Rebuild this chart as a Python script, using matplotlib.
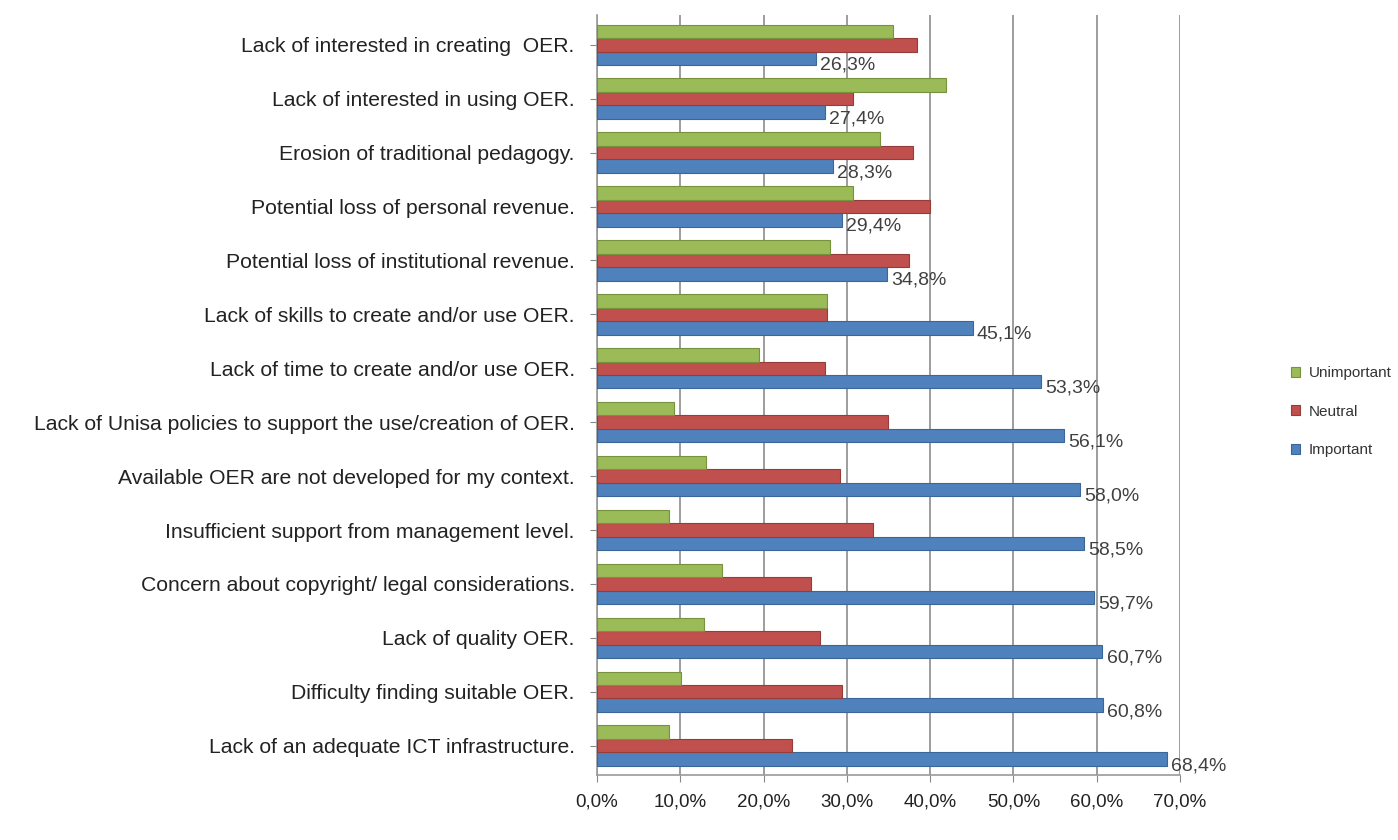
"""Barriers to OER use: grouped horizontal bar chart"""

import numpy as np
import matplotlib
matplotlib.use("Agg")
import matplotlib.pyplot as plt
from matplotlib.ticker import FuncFormatter

plt.rcParams["font.family"] = ["Liberation Sans", "DejaVu Sans"]

# categories listed bottom -> top
categories = [
    "Lack of an adequate ICT infrastructure.",
    "Difficulty finding suitable OER.",
    "Lack of quality OER.",
    "Concern about copyright/ legal considerations.",
    "Insufficient support from management level.",
    "Available OER are not developed for my context.",
    "Lack of Unisa policies to support the use/creation of OER.",
    "Lack of time to create and/or use OER.",
    "Lack of skills to create and/or use OER.",
    "Potential loss of institutional revenue.",
    "Potential loss of personal revenue.",
    "Erosion of traditional pedagogy.",
    "Lack of interested in using OER.",
    "Lack of interested in creating  OER.",
]
important = [68.4, 60.8, 60.7, 59.7, 58.5, 58.0, 56.1, 53.3, 45.1, 34.8, 29.4, 28.3, 27.4, 26.3]
neutral = [23.4, 29.4, 26.8, 25.7, 33.2, 29.2, 34.9, 27.4, 27.6, 37.5, 40.0, 37.9, 30.8, 38.4]
unimportant = [8.7, 10.1, 12.9, 15.0, 8.7, 13.1, 9.2, 19.5, 27.6, 28.0, 30.8, 34.0, 41.9, 35.6]

blue, red, green = "#4F81BD", "#C0504D", "#9BBB59"

fig = plt.figure(figsize=(13.98, 8.4), dpi=100)
ax = fig.add_axes([0.427, 0.077, 0.417, 0.905])

y = np.arange(len(categories))
h = 0.25
ax.barh(y - h, important, height=h, color=blue, edgecolor="#3A6699", linewidth=0.8, label="Important", zorder=3)
ax.barh(y, neutral, height=h, color=red, edgecolor="#963C3A", linewidth=0.8, label="Neutral", zorder=3)
ax.barh(y + h, unimportant, height=h, color=green, edgecolor="#76923C", linewidth=0.8, label="Unimportant", zorder=3)

for yi, v in zip(y, important):
    ax.text(v + 0.5, yi - h - 0.12, f"{v:.1f}%".replace(".", ","), va="center", ha="left",
            fontsize=14, color="#404040", zorder=4)

ax.set_xlim(0, 70)
ax.set_ylim(-0.55, len(categories) - 0.45)
ax.set_xticks(np.arange(0, 71, 10))
ax.xaxis.set_major_formatter(FuncFormatter(lambda v, p: f"{v:.1f}%".replace(".", ",")))
ax.set_yticks(y)
ax.set_yticklabels(categories)
ax.tick_params(axis="y", length=5, color="#888888", labelsize=15.2, labelcolor="#222222", pad=11)
ax.tick_params(axis="x", length=5, color="#888888", labelsize=13.5, labelcolor="#222222", pad=8)
ax.grid(axis="x", color="#8C8C8C", linewidth=1.2, zorder=0)
for s in ["top", "right"]:
    ax.spines[s].set_visible(False)
for s in ["left", "bottom"]:
    ax.spines[s].set_color("#9A9A9A")
    ax.spines[s].set_linewidth(1.2)

handles, labels = ax.get_legend_handles_labels()
leg = fig.legend(handles[::-1], labels[::-1], loc="center left", bbox_to_anchor=(0.921, 0.51),
                 frameon=False, fontsize=11, handlelength=0.6, handleheight=0.6,
                 labelspacing=1.6, handletextpad=0.6, borderpad=0.1, borderaxespad=0.1)
for t in leg.get_texts():
    t.set_color("#333333")

fig.savefig("out.png", dpi=100, facecolor="white")
